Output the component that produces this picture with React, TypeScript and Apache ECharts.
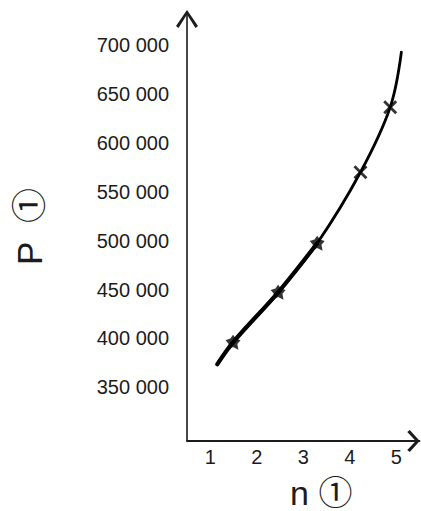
import React, { useEffect, useRef } from "react";
import * as echarts from "echarts";

// Curve through the measured points (n, P)
const nValues = [1.15, 1.49, 2.46, 3.3, 4.23, 4.87, 5.11];
const pValues = [373500, 396000, 447200, 497400, 570000, 636600, 692800];
// first points are drawn with a heavier stroke
const boldCount = 4;
// indices of points that carry a marker
const filledMarkers = [1, 2, 3];
const crossMarkers = [4, 5];

const xTicks = [1, 2, 3, 4, 5];
const yTicks = [350000, 400000, 450000, 500000, 550000, 600000, 650000, 700000];
const xRange = [0.5, 5.5];
const yRange = [295000, 734000];

const xName = "n ①";
const yName = "P  ①";

const FONT = "'Liberation Sans', Arial, 'Noto Sans CJK JP', sans-serif";
const INK = "#1c1c1c";

const fmtThousands = (v: number) =>
  String(Math.round(v)).replace(/\B(?=(\d{3})+(?!\d))/g, " ");

// chevrons pointing "up" (ECharts rotates them along each axis)
const chevronX = "path://M11 0 L22 10 L20 12.5 L11 4 L2 12.5 L0 10 Z";
const chevronY = "path://M11 0 L22 16 L19.5 18 L11 4.5 L2.5 18 L0 16 Z";
const crossPath =
  "path://M0 2 L2 0 L7 5 L12 0 L14 2 L9 7 L14 12 L12 14 L7 9 L2 14 L0 12 L5 7 Z";
const blobPath =
  "path://M7 0 L9.5 3.5 L14 5 L11 8.5 L12 14 L7 11.5 L2 14 L3 8.5 L0 5 L4.5 3.5 Z";

export default function App() {
  const ref = useRef<HTMLDivElement>(null);

  useEffect(() => {
    if (!ref.current) return;
    const chart = echarts.init(ref.current, undefined, { renderer: "svg" });
    const pts = nValues.map((n, i) => [n, pValues[i]]);
    chart.setOption({
      animation: false,
      backgroundColor: "#ffffff",
      grid: {
        left: 187,
        right: 1.5,
        top: 12,
        bottom: 70,
        containLabel: false,
        outerBoundsMode: "none",
      },
      xAxis: {
        type: "value",
        min: xRange[0],
        max: xRange[1],
        name: xName,
        nameLocation: "middle",
        nameGap: 35,
        nameTextStyle: {
          fontFamily: FONT,
          fontSize: 34,
          color: INK,
          padding: [0, 0, 0, 36],
        },
        axisLine: {
          show: true,
          lineStyle: { color: INK, width: 1.8 },
          symbol: ["none", chevronX],
          symbolSize: [22, 12.5],
          symbolOffset: [0, -6],
        },
        axisTick: { show: false },
        splitLine: { show: false },
        axisLabel: {
          customValues: xTicks,
          fontFamily: FONT,
          fontSize: 20,
          color: INK,
          margin: 6,
        },
      },
      yAxis: {
        type: "value",
        min: yRange[0],
        max: yRange[1],
        name: yName,
        nameLocation: "middle",
        nameRotate: 90,
        nameGap: 140,
        nameTextStyle: { fontFamily: FONT, fontSize: 35, color: INK },
        axisLine: {
          show: true,
          lineStyle: { color: INK, width: 1.6 },
          symbol: ["none", chevronY],
          symbolSize: [22, 18],
          symbolOffset: [0, -7],
        },
        axisTick: { show: false },
        splitLine: { show: false },
        axisLabel: {
          customValues: yTicks,
          formatter: (v: number) => fmtThousands(v),
          fontFamily: FONT,
          fontSize: 20,
          color: INK,
          margin: 18,
        },
      },
      series: [
        {
          type: "line",
          data: pts,
          smooth: 0.35,
          showSymbol: false,
          lineStyle: { color: "#000", width: 2.8, cap: "round" },
          z: 3,
        },
        {
          type: "line",
          data: pts.slice(0, boldCount),
          smooth: 0.35,
          showSymbol: false,
          lineStyle: { color: "#000", width: 4.2, cap: "round" },
          z: 4,
        },
        {
          type: "scatter",
          data: filledMarkers.map((i) => pts[i]),
          symbol: blobPath,
          symbolSize: 15,
          itemStyle: { color: "#000" },
          z: 5,
        },
        {
          type: "scatter",
          data: crossMarkers.map((i) => pts[i]),
          symbol: crossPath,
          symbolSize: 14,
          itemStyle: { color: "#000" },
          z: 5,
        },
      ],
    });
    return () => chart.dispose();
  }, []);

  return (
    <div
      ref={ref}
      style={{ position: "fixed", left: 0, top: 0, width: 421, height: 511 }}
    />
  );
}
